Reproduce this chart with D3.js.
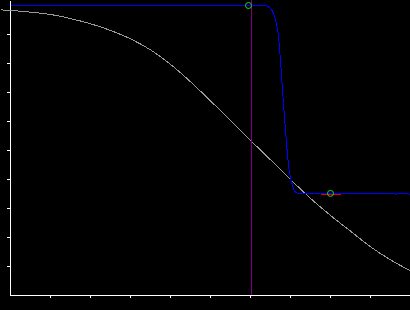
<!DOCTYPE html>
<html>
<head>
<meta charset="utf-8">
<script src="https://cdn.jsdelivr.net/npm/d3@7"></script>
<style>
  html, body { margin: 0; padding: 0; background: #000; overflow: hidden; }
</style>
</head>
<body>
<div id="chart"></div>
<script>
const width = 410;
const height = 310;
const margin = {left: 10, bottom: 15};

// Data
const tickValues = [1, 2, 3, 4, 5, 6, 7, 8, 9];

// gray reference curve
const refX = [-0.25, 0, 0.5, 1, 1.5, 2, 2.5, 3, 3.5, 4, 4.5, 5, 5.5, 6, 6.5, 7, 7.5, 8, 8.5, 9, 9.5, 10];
const refY = [9.85, 9.83, 9.77, 9.69, 9.55, 9.37, 9.14, 8.85, 8.47, 7.97, 7.37, 6.71, 6.04, 5.35, 4.68, 4.0, 3.35, 2.76, 2.22, 1.68, 1.23, 0.85];

// blue step response
const stepX = [0, 6.35, 6.5, 6.58, 6.65, 6.7, 6.75, 6.8, 6.875, 6.93, 6.98, 7.04, 7.1, 7.2, 7.3, 9.6, 9.63, 9.66, 9.82, 9.85, 9.88, 9.95, 9.98, 10];
const stepY = [10, 10, 9.9, 9.71, 9.37, 8.91, 8.1, 7.07, 5.69, 4.77, 4.2, 3.85, 3.6, 3.52, 3.52, 3.52, 3.48, 3.52, 3.52, 3.48, 3.52, 3.52, 3.48, 3.52];

// markers
const cursorX = 6.025;
const topMarker = [5.95, 10];
const targetMarker = [8, 3.52];
const targetBand = [7.75, 8.25];
const targetBandY = 3.5;

const svg = d3.select("#chart")
  .append("svg")
    .attr("width", width)
    .attr("height", height)
    .style("background", "#000")
    .style("display", "block");

// Scales
const xScale = d3.scaleLinear()
  .domain([0, 10])
  .range([margin.left, margin.left + 400]);

const yScale = d3.scaleLinear()
  .domain([0, 295 / 29])
  .range([height - margin.bottom, 0]);

// Axes
const bottomAxis = d3.axisBottom(xScale)
  .tickValues(tickValues)
  .tickSize(3)
  .tickSizeOuter(0)
  .tickFormat("");
svg.append("g")
    .attr("transform", `translate(0, ${height - margin.bottom})`)
    .call(bottomAxis)
    .call(g => g.selectAll("path, line").attr("stroke", "#fff").attr("shape-rendering", "crispEdges"));

const leftAxis = d3.axisLeft(yScale)
  .tickValues(tickValues)
  .tickSize(3)
  .tickSizeOuter(0)
  .tickFormat("");
svg.append("g")
    .attr("transform", `translate(${margin.left}, 0)`)
    .call(leftAxis)
    .call(g => g.selectAll("path, line").attr("stroke", "#fff").attr("shape-rendering", "crispEdges"));

// Marks
const plot = svg.append("g")
    .attr("transform", "translate(0.5, 0.5)");

const curveGenerator = d3.line()
  .x(d => xScale(d[0]))
  .y(d => yScale(d[1]));

plot.append("path")
    .attr("d", curveGenerator.curve(d3.curveMonotoneX)(refX.map((x, i) => [x, refY[i]])))
    .attr("fill", "none")
    .attr("stroke", "#9a9a9a")
    .attr("stroke-width", 1)
    .attr("shape-rendering", "crispEdges");

plot.append("line")
    .attr("x1", xScale(cursorX))
    .attr("x2", xScale(cursorX))
    .attr("y1", yScale(yScale.domain()[1]) - 1)
    .attr("y2", yScale(0) - 0.5)
    .attr("stroke", "#800080")
    .attr("shape-rendering", "crispEdges");

plot.append("line")
    .attr("x1", xScale(targetBand[0]))
    .attr("x2", xScale(targetBand[1]))
    .attr("y1", yScale(targetBandY))
    .attr("y2", yScale(targetBandY))
    .attr("stroke", "#e00000")
    .attr("stroke-width", 2)
    .attr("shape-rendering", "crispEdges");

plot.append("path")
    .attr("d", curveGenerator.curve(d3.curveMonotoneX)(stepX.map((x, i) => [x, stepY[i]])))
    .attr("fill", "none")
    .attr("stroke", "#0000ff")
    .attr("stroke-width", 1)
    .attr("shape-rendering", "crispEdges");

plot.selectAll(".marker")
  .data([topMarker, targetMarker])
  .join("circle")
    .attr("class", "marker")
    .attr("cx", d => xScale(d[0]))
    .attr("cy", d => yScale(d[1]))
    .attr("r", 3)
    .attr("fill", "none")
    .attr("stroke", "#22dd22")
    .attr("stroke-width", 1);
</script>
</body>
</html>
